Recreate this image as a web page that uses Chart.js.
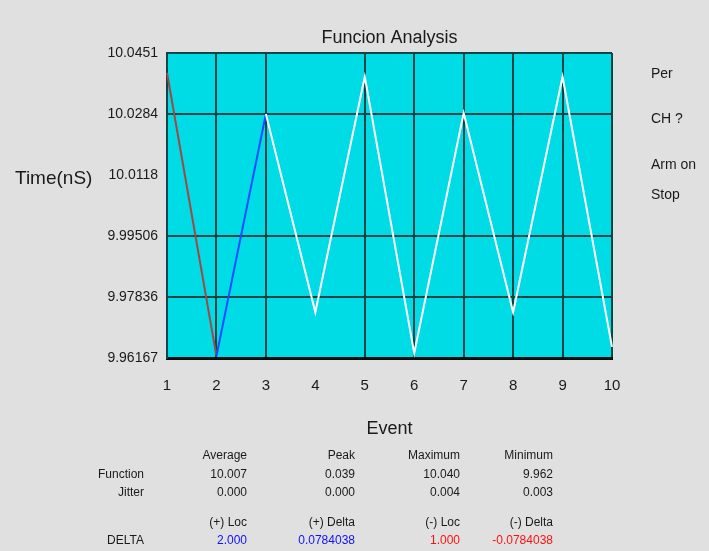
<!DOCTYPE html>
<html>
<head>
<meta charset="utf-8">
<script src="https://cdn.jsdelivr.net/npm/chart.js@4.4.1/dist/chart.umd.min.js"></script>
<style>
  body { margin: 0; background: #e0e0e0; }
  #wrap { position: relative; width: 709px; height: 551px; overflow: hidden; font-family: "Liberation Sans", Arial, sans-serif; color: #1a1a1a; }
  #stats-chart-canvas { position: absolute; left: 0; top: 0; }
  .lbl { position: absolute; white-space: nowrap; line-height: 1; }
  .side { font-size: 14px; left: 651px; }
  .cell { position: absolute; font-size: 12px; line-height: 1; white-space: nowrap; transform: translate(-100%, -50%); }
</style>
</head>
<body>
<div id="wrap">
  <canvas id="stats-chart-canvas" width="709" height="551"></canvas>
  <div class="lbl" style="left:15px; top:168px; font-size:19px;">Time(nS)</div>
  <div class="lbl side" style="top:66px;">Per</div>
  <div class="lbl side" style="top:111px;">CH ?</div>
  <div class="lbl side" style="top:157px;">Arm on</div>
  <div class="lbl side" style="top:187px;">Stop</div>
  <div id="table"></div>
</div>
<script>
// readings
const events = ['1', '2', '3', '4', '5', '6', '7', '8', '9', '10'];
const times = [10.0397, 9.9622, 10.0284, 9.9742, 10.0386, 9.9630, 10.0287, 9.9742, 10.0386, 9.9647];
const yTicks = [9.96167, 9.97836, 9.99506, 10.0118, 10.0284, 10.0451];
const yTickLabels = ['9.96167', '9.97836', '9.99506', '10.0118', '10.0284', '10.0451'];

// stats block under the chart
const statHeaders = ['Average', 'Peak', 'Maximum', 'Minimum'];
const functionRow = ['10.007', '0.039', '10.040', '9.962'];
const jitterRow = ['0.000', '0.000', '0.004', '0.003'];
const deltaHeaders = ['(+) Loc', '(+) Delta', '(-) Loc', '(-) Delta'];
const deltaRow = ['2.000', '0.0784038', '1.000', '-0.0784038'];

const segmentColors = ['#a04848', '#1450ff'];
const gridOff = { x: ['4'], y: [10.0118] };
const gridColor = '#0b4548';

function plotBackground() {
    return {
        id: 'plotBackground',
        beforeDraw(chart) {
            const a = chart.chartArea;
            const c = chart.ctx;
            c.save();
            c.fillStyle = '#00dce6';
            c.fillRect(a.left, a.top, a.right - a.left, a.bottom - a.top);
            c.restore();
        }
    };
}

function buildTable() {
    const cols = [247, 355, 460, 553];
    const rows = [
        { y: 455, label: '', cells: statHeaders, colors: null },
        { y: 474, label: 'Function', cells: functionRow, colors: null },
        { y: 492, label: 'Jitter', cells: jitterRow, colors: null },
        { y: 522, label: '', cells: deltaHeaders, colors: null },
        { y: 540, label: 'DELTA', cells: deltaRow, colors: ['#1010ff', '#1010ff', '#ff1010', '#ff1010'] }
    ];
    const table = document.getElementById('table');
    rows.forEach(row => {
        const add = (text, x, color) => {
            const el = document.createElement('div');
            el.className = 'cell';
            el.style.left = x + 'px';
            el.style.top = row.y + 'px';
            if (color) el.style.color = color;
            el.textContent = text;
            table.appendChild(el);
        };
        if (row.label) add(row.label, 144);
        row.cells.forEach((t, i) => add(t, cols[i], row.colors && row.colors[i]));
    });
}

const context = document.getElementById('stats-chart-canvas');
const lineChart = new Chart(context, {
    type: 'line',
    data: {
        labels: events,
        datasets: [{
            data: times,
            borderColor: '#ffffff',
            borderWidth: 2,
            pointRadius: 0,
            tension: 0,
            segment: {
                borderColor: ctx => segmentColors[ctx.p0DataIndex] || '#ffffff'
            }
        }]
    },
    options: {
        responsive: false,
        animation: false,
        layout: { padding: { left: 0, right: 97, top: 0, bottom: 103 } },
        plugins: {
            legend: { display: false },
            tooltip: { enabled: false },
            title: {
                display: true,
                text: 'Funcion Analysis',
                fullSize: false,
                color: '#1a1a1a',
                font: { family: '"Liberation Sans", Arial, sans-serif', size: 18, weight: 'normal', lineHeight: 1.2 },
                padding: { top: 27, bottom: 4.4 }
            }
        },
        scales: {
            x: {
                type: 'category',
                offset: false,
                afterFit: scale => { scale.height = 90; },
                grid: {
                    drawTicks: false,
                    lineWidth: 2,
                    color: ctx => gridOff.x.includes(events[ctx.index]) ? 'rgba(0,0,0,0)' : gridColor
                },
                border: { display: true, color: '#050f10', width: 3 },
                ticks: {
                    padding: 19,
                    maxRotation: 0,
                    autoSkip: false,
                    color: '#1a1a1a',
                    font: { family: '"Liberation Sans", Arial, sans-serif', size: 15 }
                },
                title: {
                    display: true,
                    text: 'Event',
                    color: '#1a1a1a',
                    font: { family: '"Liberation Sans", Arial, sans-serif', size: 18 },
                    padding: { top: 0, bottom: 8 }
                }
            },
            y: {
                min: yTicks[0],
                max: yTicks[yTicks.length - 1],
                afterFit: scale => { scale.width = 167; },
                afterBuildTicks: axis => { axis.ticks = yTicks.map(v => ({ value: v })); },
                grid: {
                    drawTicks: false,
                    lineWidth: 2,
                    color: ctx => (ctx.tick && gridOff.y.includes(ctx.tick.value)) ? 'rgba(0,0,0,0)' : gridColor
                },
                border: { display: true, color: gridColor, width: 2 },
                ticks: {
                    padding: 9,
                    color: '#1a1a1a',
                    font: { family: '"Liberation Sans", Arial, sans-serif', size: 14 },
                    callback: (value, index) => yTickLabels[index]
                }
            }
        }
    },
    plugins: [plotBackground()]
});

buildTable();
</script>
</body>
</html>
